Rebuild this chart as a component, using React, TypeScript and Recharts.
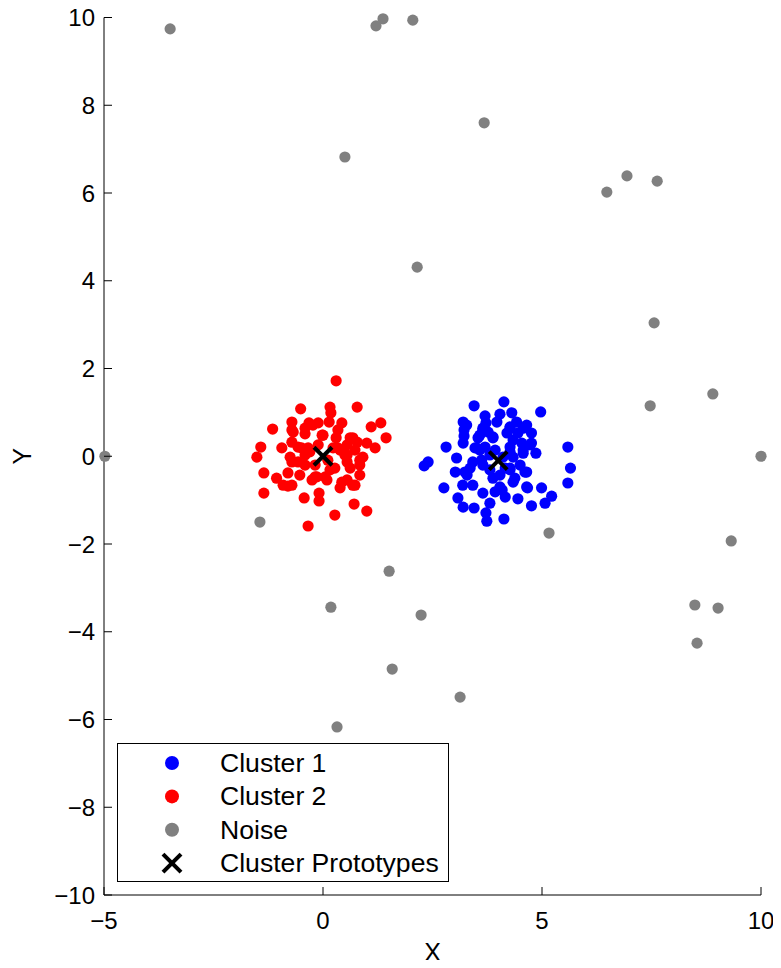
import { Legend, Scatter, ScatterChart, XAxis, YAxis } from "recharts";

// [x, y] pairs
const cluster1: [number, number][] = [
  [3.45, 1.15], [4.13, 1.24], [4.04, 0.96], [4.31, 0.99], [4.97, 1.01], [3.7, 0.92],
  [3.2, 0.78], [3.72, 0.76], [4.42, 0.78], [4.27, 0.67], [4.57, 0.64], [3.22, 0.6],
  [3.65, 0.6], [3.77, 0.55], [4.2, 0.53], [4.45, 0.53], [4.76, 0.53], [3.22, 0.46],
  [3.58, 0.48], [3.88, 0.44], [3.2, 0.3], [4.54, 0.3], [4.76, 0.3], [2.81, 0.21],
  [3.47, 0.19], [3.7, 0.21], [4.27, 0.21], [4.57, 0.14], [4.86, 0.07], [5.59, 0.21],
  [3.05, -0.04], [3.42, -0.13], [3.62, -0.09], [4.11, -0.02], [4.34, -0.02], [4.5, -0.2],
  [2.4, -0.13], [2.31, -0.22], [3.02, -0.36], [3.24, -0.36], [3.36, -0.27], [3.81, -0.31],
  [4.04, -0.43], [4.38, -0.5], [4.61, -0.36], [5.65, -0.27], [2.76, -0.72], [3.19, -0.66],
  [3.65, -0.84], [3.93, -0.81], [4.04, -0.7], [4.16, -0.93], [4.67, -0.72], [4.99, -0.72],
  [5.59, -0.61], [3.08, -0.95], [4.45, -0.97], [5.22, -0.91], [5.07, -1.07], [3.2, -1.16],
  [3.45, -1.18], [3.81, -1.07], [4.76, -1.13], [3.72, -1.29], [3.74, -1.48], [4.13, -1.43],
  [3.93, 0.14], [4.16, -0.27], [3.81, 0.03], [4.27, -0.31], [3.58, 0.14],
  [3.28, 0.71], [3.65, 0.64], [3.97, 0.78], [4.27, 0.64], [4.65, 0.71], [3.54, 0.42],
  [3.88, 0.42], [4.34, 0.37], [4.73, 0.26], [3.51, 0.19], [4.27, 0.1], [4.57, 0.07],
  [3.65, -0.2], [4.27, -0.27], [4.65, -0.36], [3.29, -0.43], [3.88, -0.5], [4.34, -0.59],
  [3.42, -0.66], [4.65, -0.7], [4.09, -0.77],
];

const cluster2: [number, number][] = [
  [0.3, 1.72], [-0.51, 1.08], [0.16, 1.12], [0.78, 1.12], [0.18, 0.99], [-1.15, 0.62],
  [-0.71, 0.78], [-0.32, 0.76], [-0.23, 0.71], [0.14, 0.78], [0.43, 0.76], [1.1, 0.67],
  [1.32, 0.76], [1.44, 0.42], [-0.68, 0.55], [-0.41, 0.51], [0.0, 0.48], [0.34, 0.6],
  [0.68, 0.42], [1.0, 0.3], [1.19, 0.19], [-1.42, 0.21], [-1.51, -0.02], [-0.94, 0.19],
  [-0.71, 0.32], [-0.49, 0.19], [-0.75, -0.02], [-0.57, -0.13], [-0.3, 0.1], [0.55, 0.26],
  [0.73, 0.14], [0.91, -0.02], [0.39, 0.14], [0.55, -0.13], [0.84, -0.09], [-1.35, -0.38],
  [-0.8, -0.38], [-0.53, -0.43], [-0.14, -0.47], [0.05, -0.47], [0.16, -0.31], [-1.06, -0.5],
  [-0.91, -0.66], [-0.8, -0.68], [0.39, -0.72], [0.55, -0.54], [0.68, -0.66], [0.84, -0.43],
  [-1.35, -0.84], [-0.43, -0.95], [-0.09, -0.84], [-0.09, -1.02], [0.71, -1.09], [1.0, -1.25],
  [0.27, -1.34], [-0.34, -1.59], [-0.11, 0.26], [0.11, -0.09], [0.23, 0.19], [-0.18, -0.2],
  [0.5, 0.03], [-0.41, 0.03], [0.3, 0.42], [-0.25, -0.54],
  [-0.71, 0.6], [-0.41, 0.64], [0.62, 0.42], [0.78, 0.32], [-0.57, 0.21], [-0.34, 0.19],
  [0.34, 0.19], [0.55, 0.03], [-0.71, -0.13], [-0.41, -0.2], [0.27, -0.27], [0.62, -0.27],
  [0.84, -0.2], [-0.18, -0.47], [0.09, -0.54], [0.43, -0.59], [-0.71, -0.66], [0.73, -0.66],
  [-0.02, 0.48], [-0.11, 0.76],
];

const noise: [number, number][] = [
  [-3.49, 9.74], [1.21, 9.81], [1.37, 9.97], [2.05, 9.94], [3.68, 7.6], [0.5, 6.82],
  [6.48, 6.02], [6.94, 6.39], [7.63, 6.27], [2.15, 4.31], [7.56, 3.04], [8.9, 1.42],
  [7.47, 1.15], [-4.98, 0.0], [10.0, 0.0], [-1.44, -1.5], [5.16, -1.75], [9.32, -1.93],
  [1.51, -2.62], [0.18, -3.44], [2.24, -3.62], [8.49, -3.39], [9.02, -3.46], [8.54, -4.26],
  [1.58, -4.85], [3.13, -5.49], [0.32, -6.17],
];

const prototypes: [number, number][] = [
  [0.0, 0.0],
  [4.0, -0.1],
];

const seriesNames = ["Cluster 1", "Cluster 2", "Noise", "Cluster Prototypes"];
const seriesColors = ["#0000ff", "#ff0000", "#808080", "#000000"];
const xTicks = [-5, 0, 5, 10];
const yTicks = [-10, -8, -6, -4, -2, 0, 2, 4, 6, 8, 10];

const FONT = "'Liberation Sans', Arial, Helvetica, sans-serif";

const toPoints = (pts: [number, number][]) => pts.map(([x, y]) => ({ x, y }));

const fmt = (v: number) => String(v).replace("-", "\u2212");

function Dot(props: any) {
  return <circle cx={props.cx} cy={props.cy} r={5.6} fill={props.fill} />;
}

function Cross(props: any) {
  const { cx, cy } = props;
  const a = 9;
  return (
    <g stroke="#000" strokeWidth={4}>
      <line x1={cx - a} y1={cy - a} x2={cx + a} y2={cy + a} />
      <line x1={cx - a} y1={cy + a} x2={cx + a} y2={cy - a} />
    </g>
  );
}

function YTick(props: any) {
  const { x, y, payload } = props;
  return (
    <g>
      <line x1={x} y1={y} x2={x + 8} y2={y} stroke="#000" />
      <text x={x - 9} y={y} textAnchor="end" dominantBaseline="central" fontSize={24} fontFamily={FONT} fill="#000">
        {fmt(payload.value)}
      </text>
    </g>
  );
}

function XTick(props: any) {
  const { x, y, payload } = props;
  return (
    <g>
      <line x1={x} y1={y} x2={x} y2={y - 8} stroke="#000" />
      <text x={x} y={y + 25} textAnchor="middle" dominantBaseline="central" fontSize={24} fontFamily={FONT} fill="#000">
        {fmt(payload.value)}
      </text>
    </g>
  );
}

function LegendBox(props: any) {
  const items = [...(props.payload || [])].sort(
    (a: any, b: any) => seriesNames.indexOf(a.value) - seriesNames.indexOf(b.value)
  );
  return (
    <svg width={332} height={139} style={{ display: "block" }}>
      <rect x={0.5} y={0.5} width={331} height={138} fill="#fff" stroke="#000" />
      {items.map((item: any, i: number) => {
        const cy = 20 + i * 33.4;
        const idx = seriesNames.indexOf(item.value);
        return (
          <g key={item.value}>
            {idx === 3 ? (
              <Cross cx={55} cy={cy} />
            ) : (
              <circle cx={55} cy={cy} r={7} fill={seriesColors[idx]} />
            )}
            <text x={103} y={cy} dominantBaseline="central" fontSize={26.6} fontFamily={FONT} fill="#000">
              {item.value}
            </text>
          </g>
        );
      })}
    </svg>
  );
}

export default function App() {
  return (
    <div style={{ width: 781, height: 968, margin: -8 }}>
      <ScatterChart width={781} height={968} margin={{ top: 17.5, right: 20, bottom: 0, left: 0 }}>
        <XAxis
          type="number"
          dataKey="x"
          domain={[-5, 10]}
          ticks={xTicks}
          height={73}
          tickSize={0}
          tickMargin={0}
          tick={<XTick />}
          axisLine={{ stroke: "#000" }}
          label={{
            content: (p: any) => (
              <text
                x={p.viewBox.x + p.viewBox.width / 2}
                y={p.viewBox.y + 57}
                textAnchor="middle"
                dominantBaseline="central"
                fontSize={25}
                fontFamily={FONT}
                fill="#000"
              >
                X
              </text>
            ),
          }}
        />
        <YAxis
          type="number"
          dataKey="y"
          domain={[-10, 10]}
          ticks={yTicks}
          width={104}
          tickSize={0}
          tickMargin={0}
          tick={<YTick />}
          axisLine={{ stroke: "#000" }}
          label={{
            content: (p: any) => {
              const cx = p.viewBox.x + 22;
              const cy = p.viewBox.y + p.viewBox.height / 2;
              return (
                <text
                  x={cx}
                  y={cy}
                  transform={`rotate(-90 ${cx} ${cy})`}
                  textAnchor="middle"
                  dominantBaseline="central"
                  fontSize={25}
                  fontFamily={FONT}
                  fill="#000"
                >
                  Y
                </text>
              );
            },
          }}
        />
        <Legend
          layout="horizontal"
          verticalAlign="middle"
          align="center"
          wrapperStyle={{ left: 117, top: 743, width: 332, height: 139 }}
          content={<LegendBox />}
        />
        <Scatter name={seriesNames[0]} data={toPoints(cluster1)} fill={seriesColors[0]} shape={<Dot />} isAnimationActive={false} />
        <Scatter name={seriesNames[1]} data={toPoints(cluster2)} fill={seriesColors[1]} shape={<Dot />} isAnimationActive={false} />
        <Scatter name={seriesNames[2]} data={toPoints(noise)} fill={seriesColors[2]} shape={<Dot />} isAnimationActive={false} />
        <Scatter name={seriesNames[3]} data={toPoints(prototypes)} fill={seriesColors[3]} shape={<Cross />} isAnimationActive={false} />
      </ScatterChart>
    </div>
  );
}
